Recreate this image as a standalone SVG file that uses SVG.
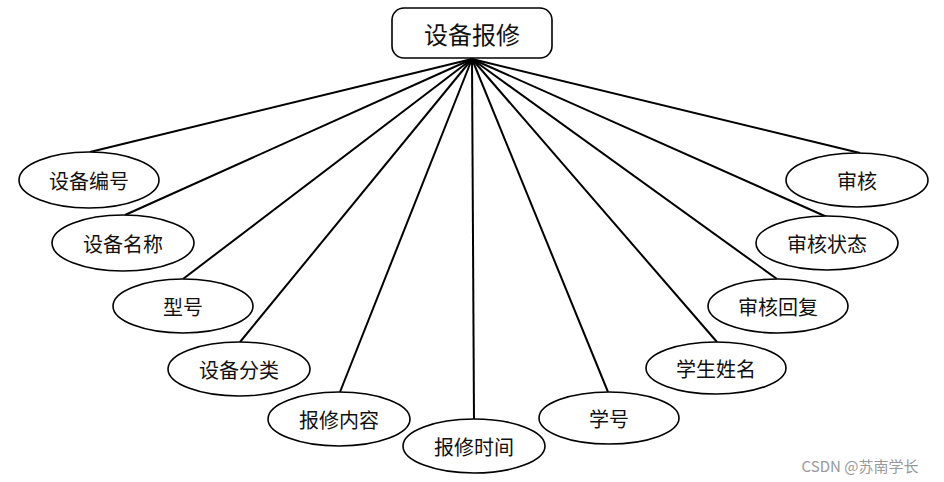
<svg xmlns="http://www.w3.org/2000/svg" width="944" height="482" viewBox="0 0 944 482">
<style>
.e{fill:#fff;stroke:#000;stroke-width:1.6}
.t{font-family:"Noto Sans CJK SC","Noto Sans CJK TC",sans-serif;font-size:20px;fill:#111;text-anchor:middle;dominant-baseline:central}
.c line{stroke:#000;stroke-width:2}
</style>
<rect width="944" height="482" fill="#fff"/>
<g class="c" id="connectors">
<line x1="472" y1="59" x2="90" y2="152"/>
<line x1="472" y1="59" x2="125" y2="215"/>
<line x1="472" y1="59" x2="183" y2="279"/>
<line x1="472" y1="59" x2="240" y2="342"/>
<line x1="472" y1="59" x2="340" y2="392"/>
<line x1="472" y1="59" x2="474" y2="419"/>
<line x1="472" y1="59" x2="608" y2="392"/>
<line x1="472" y1="59" x2="717" y2="342"/>
<line x1="472" y1="59" x2="777" y2="279"/>
<line x1="472" y1="59" x2="827" y2="217"/>
<line x1="472" y1="59" x2="860" y2="153"/>
</g>
<g id="root"><rect x="392" y="8" width="160" height="50" rx="12" class="e"/><text x="472" y="33" class="t" style="font-size:24px">设备报修</text></g>
<g id="n1"><ellipse cx="89" cy="180" rx="70" ry="28" class="e"/><text x="89" y="180" class="t">设备编号</text></g>
<g id="n2"><ellipse cx="123" cy="243" rx="71" ry="28" class="e"/><text x="123" y="243" class="t">设备名称</text></g>
<g id="n3"><ellipse cx="183" cy="306" rx="70" ry="27" class="e"/><text x="183" y="306" class="t">型号</text></g>
<g id="n4"><ellipse cx="239" cy="369" rx="71" ry="27" class="e"/><text x="239" y="369" class="t">设备分类</text></g>
<g id="n5"><ellipse cx="339" cy="419" rx="71" ry="27" class="e"/><text x="339" y="419" class="t">报修内容</text></g>
<g id="n6"><ellipse cx="474" cy="446" rx="71" ry="27" class="e"/><text x="474" y="446" class="t">报修时间</text></g>
<g id="n7"><ellipse cx="609" cy="418" rx="70" ry="26" class="e"/><text x="609" y="418" class="t">学号</text></g>
<g id="n8"><ellipse cx="716" cy="368" rx="70" ry="26" class="e"/><text x="716" y="368" class="t">学生姓名</text></g>
<g id="n9"><ellipse cx="778" cy="306" rx="70" ry="27" class="e"/><text x="778" y="306" class="t">审核回复</text></g>
<g id="n10"><ellipse cx="827" cy="243" rx="71" ry="27" class="e"/><text x="827" y="243" class="t">审核状态</text></g>
<g id="n11"><ellipse cx="857" cy="180" rx="71" ry="27" class="e"/><text x="857" y="180" class="t">审核</text></g>
<text x="860" y="465" style="font-family:'Noto Sans CJK SC',sans-serif;font-size:15px;fill:#999;text-anchor:middle;dominant-baseline:central">CSDN @苏南学长</text>
</svg>
